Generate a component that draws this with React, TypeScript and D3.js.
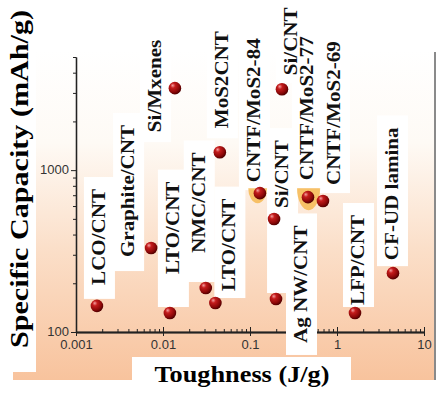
import { useEffect, useRef } from 'react';
import * as d3 from 'd3';

// material systems, in plotting order
const materials = [
  'LCO/CNT', 'Graphite/CNT', 'Si/Mxenes', 'LTO/CNT', 'NMC/CNT', 'LTO/CNT',
  'MoS2CNT', 'CNTF/MoS2-84', 'Si/CNT', 'Si/CNT', 'CNTF/MoS2-77', 'CNTF/MoS2-69',
  'Ag NW/CNT', 'LFP/CNT', 'CF-UD lamina',
];
// toughness in J/g
const toughness = [0.00174, 0.0073, 0.0137, 0.012, 0.031, 0.040, 0.045, 0.130, 0.189, 0.233, 0.464, 0.69, 0.199, 1.61, 4.4];
// specific capacity in mAh/g
const capacity = [145, 330, 3210, 131, 187, 151, 1290, 721, 499, 3160, 681, 644, 160, 131, 231];

// shaded highlight regions around the CNTF/MoS2 points (x range, y range)
const highlightX = [[0.0955, 0.157], [0.347, 0.64]];
const highlightY = [[774, 625], [774, 566]];

const xMajor = [0.001, 0.01, 0.1, 1, 10];
const yMajor = [100, 1000];

// label placement: [dx, dy, extra white below text]
const labelLayout: [number, number, number][] = [
  [8, -21, 14], [-17, 9, 14], [-14, 44, 10], [9, -39, 33], [-1, -35, 29], [20, -12, 7],
  [8, -24, 10], [0, -11, 8], [14, -11, 85], [15, -14, 8], [5, -17, 8], [17, -16, 8],
  [31, 44, 12], [9, -8, 2], [5, -13, 6],
];

const W = 445;
const H = 396;
const serif = "'Liberation Serif', 'Times New Roman', serif";
const sans = "'Liberation Sans', Arial, sans-serif";

export default function App() {
  const svgRef = useRef<SVGSVGElement>(null);

  useEffect(() => {
    if (!svgRef.current) return;
    const svg = d3.select(svgRef.current);
    svg.selectAll('*').remove();

    const x = d3.scaleLog().domain([0.001, 10]).range([76, 424]);
    const y = d3.scaleLog().domain([100, 5000]).range([332, 57]);

    const xMinor: number[] = [];
    xMajor.slice(0, -1).forEach(m => { for (let k = 2; k < 10; k++) xMinor.push(m * k); });
    const yMinor: number[] = [];
    for (let k = 2; k < 10; k++) yMinor.push(100 * k);
    for (let k = 2; k <= 5; k++) yMinor.push(1000 * k);

    const defs = svg.append('defs');
    const bg = defs.append('linearGradient').attr('id', 'bg').attr('x1', 0).attr('y1', 0).attr('x2', 0).attr('y2', 1);
    bg.append('stop').attr('offset', 0).attr('stop-color', '#ffffff');
    bg.append('stop').attr('offset', 0.28).attr('stop-color', '#fefaf5');
    bg.append('stop').attr('offset', 0.6).attr('stop-color', '#fbdfc9');
    bg.append('stop').attr('offset', 1).attr('stop-color', '#f8c39d');

    const ball = defs.append('radialGradient').attr('id', 'ball')
      .attr('cx', '38%').attr('cy', '35%').attr('r', '65%').attr('fx', '32%').attr('fy', '28%');
    ball.append('stop').attr('offset', 0).attr('stop-color', '#f4a0a0');
    ball.append('stop').attr('offset', 0.3).attr('stop-color', '#c41c1c');
    ball.append('stop').attr('offset', 0.75).attr('stop-color', '#8c0808');
    ball.append('stop').attr('offset', 1).attr('stop-color', '#520000');

    // background panel
    svg.append('rect').attr('x', 13).attr('y', 50).attr('width', 422).attr('height', 330).attr('fill', 'url(#bg)');
    svg.append('rect').attr('x', 0).attr('y', 0).attr('width', 36).attr('height', 372).attr('fill', '#fff');
    svg.append('line').attr('x1', 435).attr('x2', 435).attr('y1', 52).attr('y2', 380)
      .attr('stroke', '#8a8a8a').attr('stroke-width', 2);

    // axes
    const axes = svg.append('g');
    const xAxisG = axes.append('g').attr('transform', 'translate(0,332)');
    xAxisG.append('g').call(d3.axisBottom(x).tickValues(xMinor).tickSize(-3).tickSizeOuter(0).tickFormat(() => ''));
    xAxisG.append('g').call(d3.axisBottom(x).tickValues(xMajor).tickSize(-5).tickSizeOuter(0).tickFormat(() => ''));
    xAxisG.append('g').call(d3.axisBottom(x).tickValues(xMajor).tickSize(4).tickSizeOuter(0).tickPadding(4)
      .tickFormat(d => String(d)));
    const yAxisG = axes.append('g').attr('transform', 'translate(76,0)');
    yAxisG.append('g').call(d3.axisLeft(y).tickValues(yMinor).tickSize(3).tickSizeOuter(0).tickFormat(() => ''));
    yAxisG.append('g').call(d3.axisLeft(y).tickValues(yMajor).tickSize(5).tickSizeOuter(0).tickPadding(2)
      .tickFormat(d => String(d)));
    axes.selectAll('.domain').attr('stroke', '#222').attr('stroke-width', 1.3);
    axes.selectAll('.tick line').attr('stroke', '#222').attr('stroke-width', 1);
    xAxisG.selectAll('text').style('font-family', sans).style('font-size', '13px').attr('fill', '#333');
    yAxisG.selectAll('text').style('font-family', sans).style('font-size', '13px').attr('fill', '#333')
      .attr('dy', '0.25em');

    const boxLayer = svg.append('g');
    const blobLayer = svg.append('g');
    const textLayer = svg.append('g');
    const pointLayer = svg.append('g');

    // axis titles
    boxLayer.append('rect').attr('x', 132).attr('y', 357).attr('width', 219).attr('height', 28).attr('fill', '#fff');
    textLayer.append('text')
      .attr('x', 242).attr('y', 382)
      .attr('text-anchor', 'middle')
      .attr('textLength', 175).attr('lengthAdjust', 'spacingAndGlyphs')
      .style('font-family', serif).style('font-weight', 'bold').style('font-size', '24px')
      .text('Toughness (J/g)');
    textLayer.append('text')
      .attr('transform', 'translate(28,348) rotate(-90)')
      .attr('textLength', 338).attr('lengthAdjust', 'spacingAndGlyphs')
      .style('font-family', serif).style('font-weight', 'bold').style('font-size', '25px')
      .text('Specific Capacity (mAh/g)');

    // highlight regions
    highlightX.forEach((xr, i) => {
      const x0 = x(xr[0]), x1 = x(xr[1]);
      const y0 = y(highlightY[i][0]), y1 = y(highlightY[i][1]);
      blobLayer.append('path')
        .attr('d', `M${x0},${y0}L${x1},${y0}A${(x1 - x0) / 2},${y1 - y0} 0 0 1 ${x0},${y0}Z`)
        .attr('fill', '#f5b548').attr('opacity', 0.8);
    });

    // labels with white boxes
    materials.forEach((name, i) => {
      const [dx, dy, padBottom] = labelLayout[i];
      const bx = x(toughness[i]) + dx;
      const by = y(capacity[i]) + dy;
      const t = textLayer.append('text')
        .attr('transform', `translate(${bx},${by}) rotate(-90) scale(1.08,1)`)
        .style('font-family', serif).style('font-weight', 'bold').style('font-size', '19.5px')
        .attr('fill', '#111')
        .text(name);
      const len = (t.node() as SVGTextElement).getComputedTextLength() * 1.08;
      boxLayer.append('rect')
        .attr('x', bx - 21).attr('width', 31)
        .attr('y', by - len - 12).attr('height', len + 12 + padBottom)
        .attr('fill', '#fff');
    });

    // data points
    pointLayer.selectAll('circle')
      .data(materials.map((m, i) => ({ m, t: toughness[i], c: capacity[i] })))
      .enter()
      .append('circle')
      .attr('cx', d => x(d.t))
      .attr('cy', d => y(d.c))
      .attr('r', 6.3)
      .attr('fill', 'url(#ball)');
  }, []);

  return (
    <div style={{ position: 'absolute', left: 0, top: 0 }}>
      <svg ref={svgRef} width={W} height={H} style={{ display: 'block', background: '#fff' }} />
    </div>
  );
}
